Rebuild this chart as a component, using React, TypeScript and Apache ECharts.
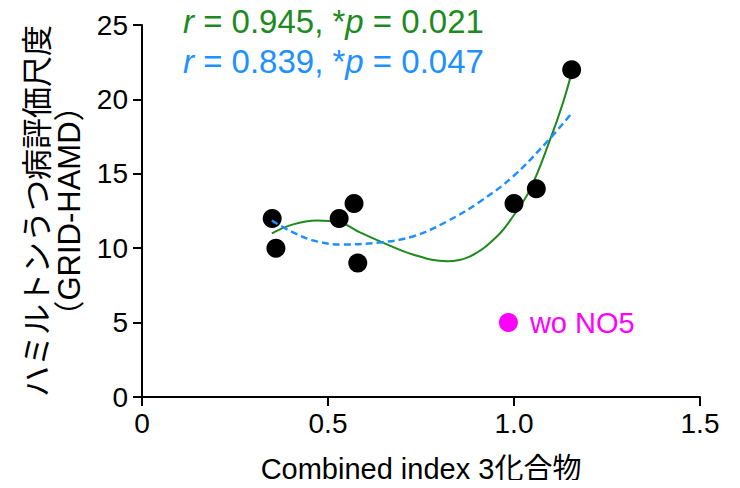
import React, { useEffect, useRef } from "react";
import * as echarts from "echarts";

const pointsX = [0.35, 0.36, 0.53, 0.57, 0.58, 1.0, 1.06, 1.155];
const pointsY = [12, 10, 12, 13, 9, 13, 14, 22];
const outlierX = [0.985];
const outlierY = [5];
const outlierLabel = "wo NO5";

const greenFitX = [0.349, 0.406, 0.47, 0.532, 0.586, 0.64, 0.728, 0.82, 0.882, 0.954, 0.997, 1.043, 1.097, 1.132, 1.156];
const greenFitY = [10.99, 11.6, 11.86, 11.73, 11.06, 10.46, 9.58, 9.12, 9.45, 10.79, 12.13, 13.94, 17.29, 19.8, 21.9];
const blueFitX = [0.349, 0.406, 0.47, 0.54, 0.64, 0.728, 0.82, 0.909, 0.997, 1.089, 1.156];
const blueFitY = [11.86, 11.06, 10.46, 10.25, 10.39, 10.79, 11.8, 13.14, 14.81, 17.16, 19.1];

const xTicks = [0, 0.5, 1.0, 1.5];
const yTicks = [0, 5, 10, 15, 20, 25];

const greenStat = { r: "0.945", p: "0.021" };
const blueStat = { r: "0.839", p: "0.047" };

const xTitle = "Combined index 3化合物";
const yTitle1 = "ハミルトンうつ病評価尺度";
const yTitle2 = "（GRID-HAMD）";

const FONT = "'Liberation Sans', Arial, 'Noto Sans CJK JP', sans-serif";
const GREEN = "#1E8A1E";
const BLUE = "#1E90FF";

export default function App() {
  const ref = useRef<HTMLDivElement>(null);
  useEffect(() => {
    if (!ref.current) return;
    const chart = echarts.init(ref.current, null, { renderer: "svg" });
    const zip = (a: number[], b: number[]) => a.map((v, i) => [v, b[i]]);
    const statText = (s: { r: string; p: string }) => `{i|r} = ${s.r}, *{i|p} = ${s.p}`;
    chart.setOption({
      animation: false,
      backgroundColor: "#fff",
      grid: { left: 142, right: 40, top: 25, bottom: 90, containLabel: false },
      xAxis: {
        type: "value",
        min: xTicks[0],
        max: xTicks[xTicks.length - 1],
        interval: 0.5,
        name: xTitle,
        nameLocation: "middle",
        nameGap: 57,
        nameTextStyle: { fontSize: 29, color: "#000", fontFamily: FONT },
        axisLine: { show: true, lineStyle: { color: "#000", width: 2 } },
        axisTick: { show: true, length: 9, lineStyle: { color: "#000", width: 2 } },
        axisLabel: {
          fontSize: 28,
          color: "#000",
          fontFamily: FONT,
          margin: 12,
          formatter: (v: number) => (v === 0 ? "0" : v.toFixed(1)),
        },
        splitLine: { show: false },
      },
      yAxis: {
        type: "value",
        min: yTicks[0],
        max: yTicks[yTicks.length - 1],
        interval: 5,
        name: `${yTitle1}\n${yTitle2}`,
        nameLocation: "middle",
        nameGap: 47,
        nameTextStyle: { fontSize: 31, color: "#000", fontFamily: FONT, lineHeight: 32 },
        axisLine: { show: true, lineStyle: { color: "#000", width: 2 } },
        axisTick: { show: true, length: 9, lineStyle: { color: "#000", width: 2 } },
        axisLabel: { fontSize: 28, color: "#000", fontFamily: FONT, margin: 14 },
        splitLine: { show: false },
      },
      graphic: [
        {
          type: "text",
          left: 183,
          top: 5,
          style: {
            text: statText(greenStat),
            fill: GREEN,
            font: `33px ${FONT}`,
            rich: { i: { fontStyle: "italic", fontSize: 33, fill: GREEN, fontFamily: FONT } },
          },
        },
        {
          type: "text",
          left: 183,
          top: 45,
          style: {
            text: statText(blueStat),
            fill: BLUE,
            font: `33px ${FONT}`,
            rich: { i: { fontStyle: "italic", fontSize: 33, fill: BLUE, fontFamily: FONT } },
          },
        },
      ],
      series: [
        {
          type: "line",
          data: zip(greenFitX, greenFitY),
          smooth: 0.4,
          showSymbol: false,
          symbol: "none",
          lineStyle: { color: GREEN, width: 2 },
          z: 2,
        },
        {
          type: "scatter",
          data: zip(pointsX, pointsY),
          symbolSize: 19,
          itemStyle: { color: "#000", opacity: 1 },
          z: 3,
        },
        {
          type: "line",
          data: zip(blueFitX, blueFitY),
          smooth: 0.4,
          showSymbol: false,
          symbol: "none",
          lineStyle: { color: BLUE, width: 2.5, type: [7, 4] },
          z: 4,
        },
        {
          type: "scatter",
          data: zip(outlierX, outlierY),
          symbolSize: 19,
          itemStyle: { color: "#FF00FF", opacity: 1 },
          label: {
            show: true,
            position: "right",
            distance: 12,
            formatter: outlierLabel,
            color: "#FF00FF",
            fontSize: 29,
            fontFamily: FONT,
          },
          z: 3,
        },
      ],
    });
    return () => chart.dispose();
  }, []);
  return <div ref={ref} style={{ width: 740, height: 488, margin: -8 }} />;
}
